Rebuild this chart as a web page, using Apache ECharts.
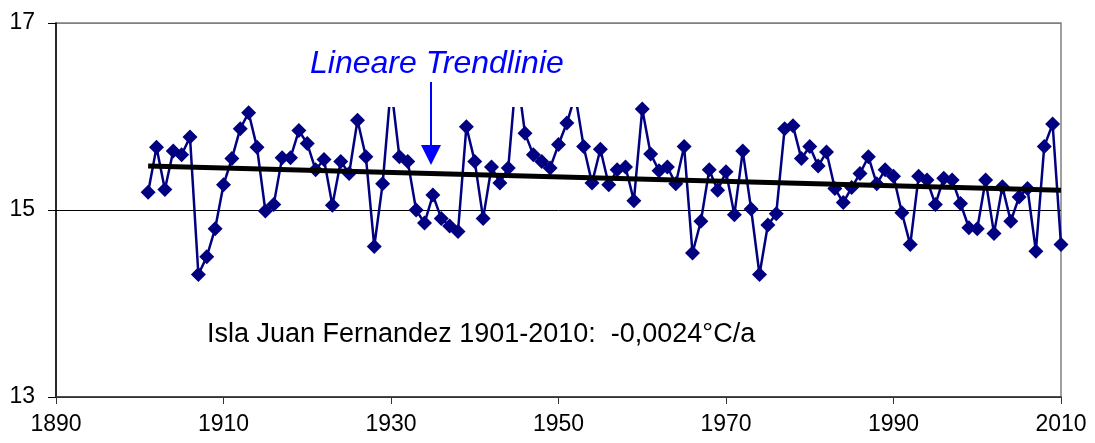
<!DOCTYPE html>
<html>
<head>
<meta charset="utf-8">
<script src="https://cdn.jsdelivr.net/npm/echarts@6/dist/echarts.min.js"></script>
<style>
    html, body { margin: 0; padding: 0; background: #fff; }
    #chart { width: 1095px; height: 443px; }
</style>
</head>
<body>
<div id="chart"></div>
<script>
// Jahre 1901-2010
var years = [
    1901,1902,1903,1904,1905,1906,1907,1908,1909,1910,
    1911,1912,1913,1914,1915,1916,1917,1918,1919,1920,
    1921,1922,1923,1924,1925,1926,1927,1928,1929,1930,
    1931,1932,1933,1934,1935,1936,1937,1938,1939,1940,
    1941,1942,1943,1944,1945,1946,1947,1948,1949,1950,
    1951,1952,1953,1954,1955,1956,1957,1958,1959,1960,
    1961,1962,1963,1964,1965,1966,1967,1968,1969,1970,
    1971,1972,1973,1974,1975,1976,1977,1978,1979,1980,
    1981,1982,1983,1984,1985,1986,1987,1988,1989,1990,
    1991,1992,1993,1994,1995,1996,1997,1998,1999,2000,
    2001,2002,2003,2004,2005,2006,2007,2008,2009,2010
];

// Jahresmitteltemperatur (°C)
var temps = [
    15.19,15.67,15.22,15.63,15.59,15.78,14.31,14.50,14.80,15.27,
    15.55,15.87,16.04,15.67,14.99,15.06,15.56,15.56,15.85,15.71,
    15.43,15.54,15.05,15.52,15.39,15.96,15.57,14.61,15.28,16.33,
    15.57,15.52,15.00,14.86,15.16,14.91,14.83,14.77,15.89,15.52,
    14.91,15.46,15.29,15.45,16.50,15.82,15.59,15.52,15.45,15.70,
    15.93,16.23,15.68,15.29,15.65,15.27,15.43,15.46,15.10,16.08,
    15.60,15.42,15.46,15.28,15.68,14.54,14.88,15.43,15.21,15.41,
    14.95,15.63,15.01,14.31,14.84,14.96,15.87,15.90,15.55,15.68,
    15.47,15.62,15.23,15.08,15.24,15.39,15.57,15.28,15.43,15.36,
    14.97,14.63,15.36,15.32,15.06,15.34,15.32,15.07,14.81,14.80,
    15.32,14.75,15.25,14.88,15.14,15.23,14.56,15.68,15.92,14.63
];

// lineare Trendlinie (Endpunkte)
var trendYears = [1901, 2010];
var trendTemps = [15.47, 15.21];

var yTicks = [13, 15, 17];
var xTicks = [1890, 1910, 1930, 1950, 1970, 1990, 2010];

var font = 'Liberation Sans, Arial, sans-serif';

var myChart = echarts.init(document.getElementById('chart'));

var tempData = [];
for (var i = 0; i < years.length; i++) {
    tempData.push([years[i], temps[i]]);
}
var trendData = [];
for (var j = 0; j < trendYears.length; j++) {
    trendData.push([trendYears[j], trendTemps[j]]);
}

var option = {
    animation: false,
    grid: {
        left: 56,
        right: 34,
        top: 23,
        bottom: 46,
        show: true,
        borderColor: '#808080',
        borderWidth: 1.5
    },
    xAxis: {
        type: 'value',
        min: xTicks[0],
        max: xTicks[xTicks.length - 1],
        interval: 20,
        axisLine: { show: true, lineStyle: { color: '#333', width: 1.5 } },
        axisTick: { show: true, inside: false, length: 7, lineStyle: { color: '#333' } },
        axisLabel: {
            color: '#000', fontSize: 23, fontFamily: font, margin: 16,
            formatter: function (v) { return String(v); }
        },
        splitLine: { show: false }
    },
    yAxis: {
        type: 'value',
        min: yTicks[0],
        max: yTicks[yTicks.length - 1],
        interval: 2,
        axisLine: { show: true, lineStyle: { color: '#000', width: 1.5 } },
        axisTick: { show: true, inside: false, length: 8, lineStyle: { color: '#000' } },
        axisLabel: { color: '#000', fontSize: 23, fontFamily: font, margin: 21 },
        splitLine: { show: true, lineStyle: { color: ['#333', '#000', '#808080'], width: 1 } }
    },
    series: [
        {
            name: 'Isla Juan Fernandez',
            type: 'line',
            data: tempData,
            symbol: 'diamond',
            symbolSize: 15,
            itemStyle: { color: '#000080' },
            lineStyle: { color: '#000080', width: 2.5 },
            z: 2
        },
        {
            name: 'Lineare Trendlinie',
            type: 'line',
            data: trendData,
            symbol: 'none',
            lineStyle: { color: '#000', width: 5 },
            z: 3
        }
    ],
    graphic: [
        {
            type: 'rect',
            z: 50,
            shape: { x: 296, y: 36, width: 292, height: 71 },
            style: { fill: '#fff' }
        },
        {
            type: 'text',
            z: 51,
            x: 310,
            y: 64,
            style: {
                text: 'Lineare Trendlinie',
                fill: '#0000ff',
                font: 'italic 32px Liberation Sans, Arial, sans-serif',
                verticalAlign: 'middle'
            }
        },
        {
            type: 'line',
            z: 51,
            shape: { x1: 431, y1: 82, x2: 431, y2: 148 },
            style: { stroke: '#0000ff', lineWidth: 2 }
        },
        {
            type: 'polygon',
            z: 51,
            shape: { points: [[421, 145], [441, 145], [431, 165]] },
            style: { fill: '#0000ff' }
        },
        {
            type: 'text',
            z: 51,
            x: 207,
            y: 335,
            style: {
                text: 'Isla Juan Fernandez 1901-2010:  -0,0024°C/a',
                fill: '#000',
                font: '27px Liberation Sans, Arial, sans-serif',
                verticalAlign: 'middle'
            }
        }
    ]
};

myChart.setOption(option);
</script>
</body>
</html>
